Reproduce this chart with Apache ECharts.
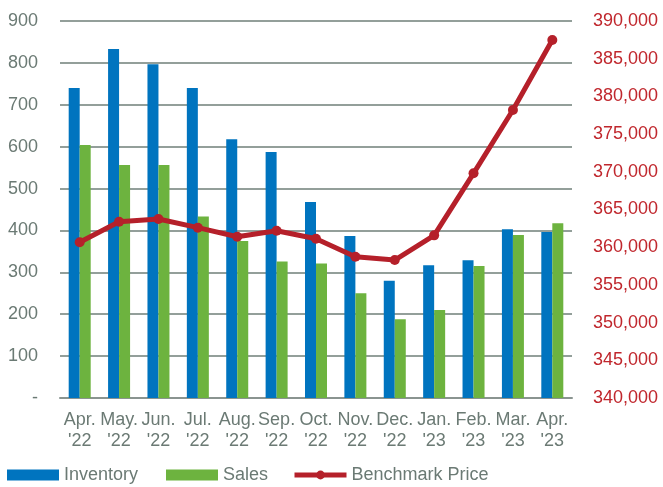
<!DOCTYPE html>
<html><head><meta charset="utf-8">
<script src="https://cdn.jsdelivr.net/npm/echarts@6/dist/echarts.min.js"></script>
<style>html,body{margin:0;padding:0;background:#fff}#c{width:663px;height:487px}</style>
</head><body><div id="c"></div>
<script>
var categories = ["Apr.\n'22","May.\n'22","Jun.\n'22","Jul.\n'22","Aug.\n'22","Sep.\n'22","Oct.\n'22","Nov.\n'22","Dec.\n'22","Jan.\n'23","Feb.\n'23","Mar.\n'23","Apr.\n'23"];
var inventory = [740, 833, 797, 740, 618, 587, 468, 387, 280, 317, 329, 403, 396];
var sales = [604, 556, 556, 433, 375, 326, 321, 250, 188, 210, 315, 389, 417];
var benchmark = [360650, 363380, 363740, 362590, 361390, 362190, 361130, 358740, 358300, 361570, 369800, 378200, 387480];

var gray = '#6b7a74';
var red = '#b5202a';
var font = 'Liberation Sans, Arial, sans-serif';
function leg(left, item) {
  return {
    left: left, top: 461, padding: 5, itemWidth: 52, itemHeight: 11,
    textStyle: {color: gray, fontSize: 18, fontFamily: font},
    data: [item]
  };
}
var chart = echarts.init(document.getElementById('c'));
chart.setOption({
  animation: false,
  textStyle: {fontFamily: font},
  grid: {left: 60, right: 91, top: 21, bottom: 89, containLabel: false},
  legend: [
    leg(2, {name:'Inventory', icon:'rect'}),
    leg(161, {name:'Sales', icon:'rect'}),
    leg(287, {name:'Benchmark Price', itemStyle: {color: red}, lineStyle: {color: red, width: 5}})
  ],
  xAxis: {
    type: 'category', data: categories,
    axisTick: {show: false},
    axisLine: {lineStyle: {color: '#8a9490', width: 2}},
    axisLabel: {color: gray, fontSize: 18, lineHeight: 21, margin: 12, interval: 0}
  },
  yAxis: [{
    type: 'value', min: 0, max: 900, interval: 100,
    axisLine: {show: false}, axisTick: {show: false},
    splitLine: {lineStyle: {color: '#6f7f79', width: 1.5}},
    axisLabel: {color: gray, fontSize: 18, margin: 22, formatter: function(v){return v===0?'-':v;}}
  },{
    type: 'value', min: 340000, max: 390000, interval: 5000,
    axisLine: {show: false}, axisTick: {show: false}, splitLine: {show: false},
    axisLabel: {color: '#c0272d', fontSize: 18, margin: 21, formatter: function(v){return v.toLocaleString('en-US');}}
  }],
  series: [{
    name: 'Inventory', type: 'bar', data: inventory, barWidth: 11, barGap: '0%',
    itemStyle: {color: '#0074bf'}
  },{
    name: 'Sales', type: 'bar', data: sales, barWidth: 11,
    itemStyle: {color: '#6db33f'}
  },{
    name: 'Benchmark Price', type: 'line', yAxisIndex: 1, data: benchmark,
    symbol: 'circle', symbolSize: 10,
    lineStyle: {color: red, width: 5}, itemStyle: {color: red}
  }]
});
</script></body></html>
